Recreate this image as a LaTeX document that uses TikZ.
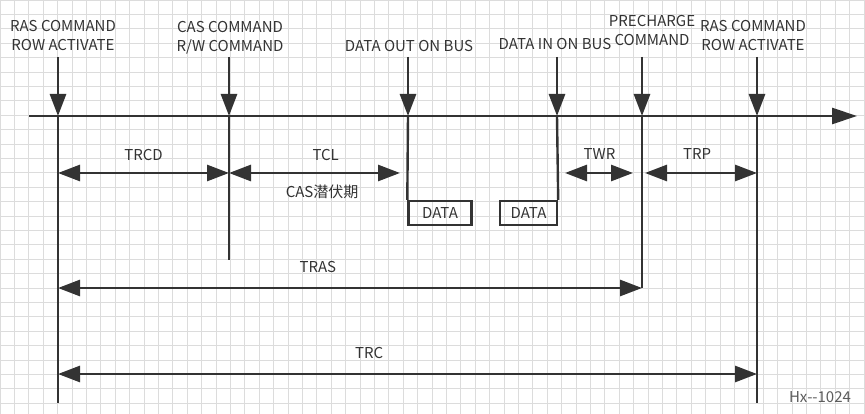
\documentclass[tikz,border=0pt]{standalone}
\usepackage{fontspec}
\setmainfont{Noto Sans CJK SC}
\usetikzlibrary{positioning,arrows.meta}
\definecolor{inkgray}{HTML}{333333}
\definecolor{gridgray}{HTML}{DCDCDC}

\begin{document}
\begin{tikzpicture}[
  x=1pt, y=-1pt,
  font=\fontsize{15}{19}\selectfont,
  every node/.style={align=center, text=inkgray},
  gridline/.style={draw=gridgray, line width=0.8pt},
  axis/.style={draw=inkgray, line width=2.8pt, -{Triangle[length=25pt,width=16pt]}},
  cmd/.style={draw=inkgray, line width=2.8pt, -{Triangle[length=22pt,width=16pt]}},
  vline/.style={draw=inkgray, line width=2.4pt},
  dim/.style={draw=inkgray, line width=2.8pt,
              {Triangle[length=22pt,width=16pt]}-{Triangle[length=22pt,width=16pt]}},
  cmdlbl/.style={inner sep=0pt},
  dimlbl/.style={inner sep=1pt},
  databox/.style={draw=inkgray, line width=2.4pt, minimum height=24pt, inner sep=0pt},
]
% ===== background grid =====
\fill[white] (0,0) rectangle (865,414);
\useasboundingbox (0,0) rectangle (865,414);
\draw[gridline] (0,0) grid[step=14.4pt] (865,414);

% ===== time axis and events =====
\coordinate (ax0) at (29,116);
\coordinate (ax1) at (857,116);
\coordinate (ras1) at (58,116);
\coordinate (cas)  at (229,116);
\coordinate (dout) at (408,116);
\coordinate (din)  at (557,116);
\coordinate (pre)  at (642,116);
\coordinate (ras2) at (757,116);

\draw[axis] (ax0) -- (ax1);

% command arrows from the top
\coordinate (ras1t) at (58,57);
\coordinate (cast)  at (229,57);
\coordinate (doutt) at (408,57);
\coordinate (dint)  at (557,57);
\coordinate (pret)  at (642,57);
\coordinate (ras2t) at (757,57);

\draw[cmd] (ras1t) -- (ras1);
\draw[cmd] (cast) -- (cas);
\draw[cmd] (doutt) -- (dout);
\draw[cmd] (dint) -- (din);
\draw[cmd] (pret) -- (pre);
\draw[cmd] (ras2t) -- (ras2);

\node[cmdlbl, above=6pt of ras1t, xshift=5pt] (lras1) {RAS COMMAND\\ROW ACTIVATE};
\node[cmdlbl, above=3pt of cast, xshift=1pt] (lcas) {CAS COMMAND\\R/W COMMAND};
\node[cmdlbl, above=5pt of doutt, xshift=1pt] (ldout) {DATA OUT ON BUS};
\node[cmdlbl, above=7pt of dint, xshift=-2pt] (ldin) {DATA IN ON BUS};
\node[cmdlbl, above=11pt of pret, xshift=10pt] (lpre) {PRECHARGE\\COMMAND};
\node[cmdlbl, above=6pt of ras2t, xshift=-4pt] (lras2) {RAS COMMAND\\ROW ACTIVATE};

% ===== lines below the axis =====
\coordinate (ras1b) at (58,403);
\coordinate (casb)  at (229,260);
\coordinate (preb)  at (642,288);
\coordinate (ras2b) at (757,403);

\draw[vline] (ras1) -- (ras1b);
\draw[vline] (cas) -- (casb);
\draw[vline] (pre) -- (preb);
\draw[vline] (ras2) -- (ras2b);

\node[databox, minimum width=63pt] (d1) at (440,213) {DATA};
\node[databox, minimum width=57pt] (d2) at (528.5,213) {DATA};
\draw[vline] (dout) -- (d1.north west);
\draw[vline] (din) -- (d2.north east);

% ===== timing intervals =====
\coordinate (row1) at (0,173);
\coordinate (row2) at (0,288);
\coordinate (row3) at (0,374);

\draw[dim] (ras1 |- row1) -- node[dimlbl, above=10pt] (trcd) {TRCD} (cas |- row1);
\draw[dim, shorten >=8pt] (cas |- row1) -- node[dimlbl, pos=0.54, above=10pt] (tcl) {TCL}
  node[dimlbl, pos=0.52, below=10pt] (lat) {CAS潜伏期} (dout |- row1);
\draw[dim, shorten <=8pt, shorten >=9pt] (din |- row1) -- node[dimlbl, above=11pt] (twr) {TWR} (pre |- row1);
\draw[dim, shorten <=3pt] (pre |- row1) -- node[dimlbl, pos=0.48, above=11pt] (trp) {TRP} (ras2 |- row1);
\draw[dim] (ras1 |- row2) -- node[dimlbl, pos=0.445, above=13pt] (tras) {TRAS} (preb);
\draw[dim] (ras1 |- row3) -- node[dimlbl, pos=0.445, above=13pt] (trc) {TRC} (ras2 |- row3);

\node[text=inkgray!80] (wm) at (820,397) {Hx-{}-1024};
\end{tikzpicture}
\end{document}
